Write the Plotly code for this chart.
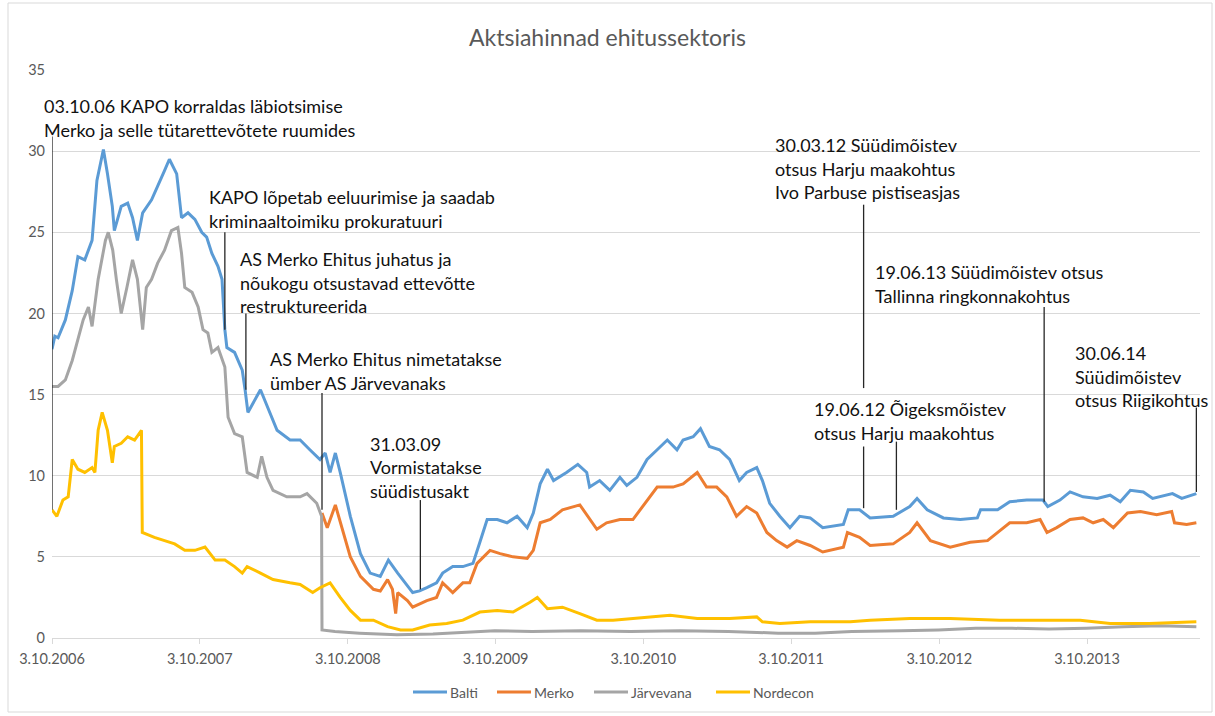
import plotly.graph_objects as go

# ---------------- data ----------------
balti_dates = ["2006-10-03","2006-10-10","2006-10-18","2006-11-05","2006-11-22","2006-12-06","2006-12-23","2007-01-10","2007-01-22","2007-02-07","2007-02-17","2007-03-01","2007-03-06","2007-03-23","2007-04-08","2007-04-20","2007-05-02","2007-05-15","2007-06-06","2007-06-21","2007-07-08","2007-07-20","2007-08-07","2007-08-19","2007-09-04","2007-09-21","2007-10-08","2007-10-20","2007-11-02","2007-11-17","2007-11-27","2007-12-04","2007-12-09","2007-12-28","2008-01-16","2008-01-23","2008-01-30","2008-03-01","2008-04-11","2008-05-13","2008-06-07","2008-07-01","2008-07-26","2008-08-08","2008-08-20","2008-09-02","2008-09-14","2008-10-09","2008-11-03","2008-11-27","2008-12-22","2009-01-11","2009-02-03","2009-03-12","2009-03-29","2009-04-16","2009-05-10","2009-05-25","2009-06-19","2009-07-14","2009-08-08","2009-08-25","2009-09-12","2009-10-07","2009-10-31","2009-11-25","2009-12-20","2010-01-04","2010-01-21","2010-02-08","2010-02-23","2010-03-27","2010-04-24","2010-05-16","2010-05-23","2010-06-17","2010-07-12","2010-08-06","2010-08-23","2010-09-17","2010-10-12","2010-11-06","2010-12-01","2010-12-25","2011-01-09","2011-02-03","2011-02-21","2011-03-15","2011-04-09","2011-05-04","2011-05-28","2011-06-15","2011-07-10","2011-07-24","2011-08-11","2011-09-05","2011-09-30","2011-10-24","2011-11-19","2011-12-20","2012-02-09","2012-02-21","2012-03-20","2012-04-15","2012-06-11","2012-07-22","2012-08-09","2012-09-03","2012-10-13","2012-11-24","2013-01-05","2013-01-13","2013-02-24","2013-03-26","2013-05-07","2013-06-16","2013-06-28","2013-07-28","2013-08-22","2013-09-23","2013-10-28","2013-11-29","2013-12-24","2014-01-18","2014-02-19","2014-03-14","2014-05-02","2014-05-25","2014-06-30"]
balti_values = [17.8,18.6,18.5,19.6,21.4,23.5,23.3,24.5,28.2,30.1,28.6,26.6,25.1,26.6,26.8,25.9,24.5,26.2,27.0,27.8,28.8,29.5,28.6,25.9,26.2,25.8,25.0,24.7,23.7,22.9,22.1,19.0,17.9,17.6,16.5,15.3,13.9,15.3,12.8,12.2,12.2,11.6,11.0,11.4,10.2,11.4,10.2,7.5,5.2,4.0,3.8,4.8,4.0,2.8,2.9,3.1,3.4,4.0,4.4,4.4,4.6,5.9,7.3,7.3,7.1,7.5,6.8,7.7,9.5,10.4,9.7,10.2,10.7,10.2,9.3,9.7,9.1,9.9,9.4,9.9,11.0,11.6,12.2,11.6,12.2,12.4,12.9,11.8,11.6,11.0,9.7,10.2,10.5,9.7,8.3,7.5,6.8,7.5,7.4,6.8,7.0,7.9,7.9,7.4,7.5,8.1,8.6,7.9,7.4,7.3,7.4,7.9,7.9,8.4,8.5,8.5,8.1,8.5,9.0,8.7,8.6,8.8,8.4,9.1,9.0,8.6,8.9,8.6,8.9]

merko_dates = ["2008-07-31","2008-08-13","2008-09-02","2008-09-22","2008-10-09","2008-11-03","2008-12-05","2008-12-22","2009-01-09","2009-01-21","2009-01-29","2009-02-03","2009-02-27","2009-03-12","2009-04-16","2009-05-10","2009-05-25","2009-06-19","2009-07-14","2009-07-31","2009-08-18","2009-09-19","2009-10-14","2009-11-15","2009-12-20","2010-01-04","2010-01-21","2010-02-15","2010-03-17","2010-04-29","2010-05-23","2010-06-10","2010-07-04","2010-08-06","2010-09-07","2010-10-12","2010-11-06","2010-12-15","2011-01-09","2011-02-13","2011-03-08","2011-04-02","2011-04-27","2011-05-21","2011-06-15","2011-07-10","2011-08-04","2011-08-28","2011-09-23","2011-10-17","2011-11-19","2011-12-20","2012-02-09","2012-02-19","2012-03-20","2012-04-15","2012-06-11","2012-07-22","2012-08-09","2012-09-11","2012-10-30","2012-12-18","2013-01-30","2013-03-01","2013-03-26","2013-05-07","2013-06-09","2013-06-26","2013-07-20","2013-08-22","2013-09-23","2013-10-18","2013-11-12","2013-12-07","2014-01-11","2014-02-12","2014-03-24","2014-04-30","2014-05-07","2014-06-06","2014-06-30"]
merko_values = [7.7,6.8,8.2,6.5,5.0,3.8,3.0,2.9,3.6,3.0,1.5,2.8,2.3,1.9,2.3,2.5,3.4,2.8,3.4,3.4,4.6,5.4,5.2,5.0,4.9,5.4,7.1,7.3,7.9,8.2,7.3,6.7,7.1,7.3,7.3,8.5,9.3,9.3,9.5,10.2,9.3,9.3,8.7,7.5,8.1,7.7,6.5,6.0,5.6,6.0,5.7,5.3,5.6,6.5,6.2,5.7,5.8,6.5,7.1,6.0,5.6,5.9,6.0,6.6,7.1,7.1,7.3,6.5,6.8,7.3,7.4,7.1,7.3,6.8,7.7,7.8,7.6,7.8,7.1,7.0,7.1]

jarvevana_dates = ["2006-10-03","2006-10-18","2006-11-05","2006-11-22","2006-12-06","2006-12-19","2007-01-01","2007-01-10","2007-01-25","2007-02-12","2007-02-19","2007-03-02","2007-03-11","2007-03-23","2007-04-06","2007-04-20","2007-05-02","2007-05-15","2007-05-24","2007-06-06","2007-06-21","2007-07-08","2007-07-25","2007-08-10","2007-08-19","2007-08-27","2007-09-14","2007-09-29","2007-10-11","2007-10-23","2007-11-02","2007-11-17","2007-12-04","2007-12-12","2007-12-28","2008-01-16","2008-01-28","2008-02-22","2008-03-04","2008-03-17","2008-04-01","2008-05-05","2008-06-07","2008-06-24","2008-07-18","2008-07-30","2008-07-31","2008-09-01","2008-11-01","2009-02-01","2009-05-01","2009-08-01","2009-10-01","2010-01-01","2010-05-01","2010-09-01","2011-01-01","2011-05-01","2011-09-01","2011-12-01","2012-03-01","2012-07-01","2012-10-01","2013-01-01","2013-04-01","2013-07-01","2013-10-01","2014-01-01","2014-04-01","2014-06-30"]
jarvevana_values = [15.5,15.5,15.9,17.1,18.4,19.6,20.4,19.2,22.1,24.5,25.0,23.9,22.1,20.0,21.6,23.3,22.1,19.0,21.6,22.1,23.1,23.9,25.1,25.3,23.7,21.6,21.3,20.4,19.0,18.8,17.6,17.9,16.7,13.6,12.6,12.4,10.2,9.9,11.2,9.9,9.1,8.7,8.7,8.9,8.3,7.5,0.5,0.4,0.3,0.2,0.25,0.35,0.45,0.4,0.45,0.4,0.45,0.4,0.3,0.3,0.4,0.45,0.5,0.6,0.6,0.55,0.6,0.7,0.75,0.7]

nordecon_dates = ["2006-10-03","2006-10-15","2006-10-30","2006-11-12","2006-11-22","2006-12-06","2006-12-23","2007-01-10","2007-01-17","2007-01-25","2007-02-04","2007-02-17","2007-03-01","2007-03-06","2007-03-23","2007-04-08","2007-04-25","2007-05-12","2007-05-14","2007-06-13","2007-07-08","2007-08-02","2007-08-27","2007-09-21","2007-10-16","2007-11-10","2007-12-04","2007-12-28","2008-01-16","2008-01-28","2008-03-01","2008-04-01","2008-05-13","2008-06-07","2008-07-08","2008-07-26","2008-08-20","2008-09-14","2008-10-09","2008-11-03","2008-12-05","2009-01-09","2009-02-10","2009-03-12","2009-04-23","2009-06-04","2009-07-14","2009-08-25","2009-10-07","2009-11-15","2009-12-27","2010-01-14","2010-02-08","2010-03-17","2010-04-29","2010-06-10","2010-07-20","2010-08-31","2010-10-12","2010-12-08","2011-02-13","2011-05-04","2011-07-10","2011-07-24","2011-09-05","2011-11-19","2012-02-26","2012-04-15","2012-07-22","2012-10-30","2013-03-01","2013-09-16","2013-11-29","2014-03-06","2014-06-30"]
nordecon_values = [7.9,7.5,8.5,8.7,11.0,10.4,10.2,10.5,10.2,12.8,13.9,12.8,10.8,11.8,12.0,12.4,12.2,12.8,6.5,6.2,6.0,5.8,5.4,5.4,5.6,4.8,4.8,4.4,4.0,4.4,4.0,3.6,3.4,3.3,2.8,3.1,3.4,2.5,1.7,1.1,1.1,0.7,0.5,0.5,0.8,0.9,1.1,1.6,1.7,1.6,2.2,2.5,1.8,1.9,1.5,1.1,1.1,1.2,1.3,1.4,1.2,1.2,1.3,1.0,0.9,1.0,1.0,1.1,1.2,1.2,1.1,1.1,0.9,0.9,1.0]

series_names = ["Balti", "Merko", "Järvevana", "Nordecon"]
series_colors = ["#5B9BD5", "#ED7D31", "#A5A5A5", "#FFC000"]

tick_dates = ["2006-10-03","2007-10-03","2008-10-03","2009-10-03","2010-10-03","2011-10-03","2012-10-03","2013-10-03"]
tick_labels = ["3.10.2006","3.10.2007","3.10.2008","3.10.2009","3.10.2010","3.10.2011","3.10.2012","3.10.2013"]

# event connector lines: date, list of (y_top, y_bottom) segments in price units
event_dates = ["2006-10-03","2007-12-04","2008-01-25","2008-07-31","2009-03-31","2012-03-30","2012-06-19","2013-06-19","2014-06-30"]
event_segments = [[(30.9, 7.9)], [(25.0, 19.0)], [(20.0, 15.3)], [(15.1, 7.9)], [(8.5, 3.0)],
                  [(26.7, 15.4), (11.8, 8.0)], [(12.1, 7.9)], [(20.4, 8.4)], [(14.2, 9.0)]]
event_texts = [
    ["03.10.06 KAPO korraldas läbiotsimise", "Merko ja selle tütarettevõtete ruumides"],
    ["KAPO lõpetab eeluurimise ja saadab", "kriminaaltoimiku prokuratuuri"],
    ["AS Merko Ehitus juhatus ja", "nõukogu otsustavad ettevõtte", "restruktureerida"],
    ["AS Merko Ehitus nimetatakse", "ümber AS Järvevanaks"],
    ["31.03.09", "Vormistatakse", "süüdistusakt"],
    ["30.03.12 Süüdimõistev", "otsus Harju maakohtus", "Ivo Parbuse pistiseasjas"],
    ["19.06.12 Õigeksmõistev", "otsus Harju maakohtus"],
    ["19.06.13 Süüdimõistev otsus", "Tallinna ringkonnakohtus"],
    ["30.06.14", "Süüdimõistev", "otsus Riigikohtus"],
]
# label placement (pixel left edge, first-line centre) -- layout only
label_pos = [(42, 106), (207, 197), (238, 259), (268, 359), (368, 444),
             (773, 145), (812, 409), (873, 272), (1073, 353)]
# legend placement (pixel x of line start) -- layout only
legend_x = [413, 497, 594, 716]
LEGEND_Y = 692

# ---------------- figure ----------------
W, H = 1215, 716
ML, MR, MT, MB = 52, 15, 70, 78
PW, PH = W - ML - MR, H - MT - MB
FONT = "Lato, 'Open Sans', sans-serif"

def px_x(px):
    return (px - ML) / PW

def px_y(py):
    return (MT + PH - py) / PH

fig = go.Figure()
all_series = [(balti_dates, balti_values), (merko_dates, merko_values),
              (jarvevana_dates, jarvevana_values), (nordecon_dates, nordecon_values)]
for (d, v), name, col in zip(all_series, series_names, series_colors):
    fig.add_trace(go.Scatter(x=d, y=v, mode="lines", name=name,
                             line=dict(color=col, width=3)))

shapes = []
for d, segs in zip(event_dates, event_segments):
    for (y0, y1) in segs:
        shapes.append(dict(type="line", xref="x", yref="y", x0=d, x1=d, y0=y0, y1=y1,
                           line=dict(color="#262626", width=1.3), layer="above"))
# outer chart border
shapes.append(dict(type="rect", xref="paper", yref="paper",
                   x0=px_x(8), x1=px_x(1212), y0=px_y(712), y1=px_y(3),
                   line=dict(color="#D9D9D9", width=1), fillcolor="rgba(0,0,0,0)", layer="below"))

annotations = []
LINE_H = 23.5
for lines, (lx, ly) in zip(event_texts, label_pos):
    for i, t in enumerate(lines):
        annotations.append(dict(xref="paper", yref="paper",
                                x=px_x(lx), y=px_y(ly + i * LINE_H),
                                xanchor="left", yanchor="middle", showarrow=False,
                                text=t, font=dict(family=FONT, size=18, color="#111111")))

# hand-built legend (line sample + real text)
for name, col, lx in zip(series_names, series_colors, legend_x):
    shapes.append(dict(type="line", xref="paper", yref="paper",
                       x0=px_x(lx), x1=px_x(lx + 34), y0=px_y(LEGEND_Y), y1=px_y(LEGEND_Y),
                       line=dict(color=col, width=3)))
    annotations.append(dict(xref="paper", yref="paper", x=px_x(lx + 35), y=px_y(LEGEND_Y),
                            xanchor="left", yanchor="middle", showarrow=False, text=name,
                            font=dict(family=FONT, size=14, color="#595959")))

fig.update_layout(
    width=W, height=H,
    margin=dict(l=ML, r=MR, t=MT, b=MB),
    paper_bgcolor="white", plot_bgcolor="white",
    title=dict(text="Aktsiahinnad ehitussektoris", x=0.5, xanchor="center",
               y=1 - 38 / H, yanchor="middle",
               font=dict(family=FONT, size=23, color="#595959")),
    font=dict(family=FONT, color="#595959"),
    showlegend=False,
    shapes=shapes, annotations=annotations,
    xaxis=dict(type="date", range=["2006-10-03", "2014-07-09"],
               tickvals=tick_dates, ticktext=tick_labels,
               showgrid=False, zeroline=False,
               showline=True, linecolor="#D9D9D9", linewidth=1,
               ticks="outside", ticklen=5, tickcolor="#D9D9D9", ticklabelstandoff=3,
               tickfont=dict(family=FONT, size=14.5, color="#595959")),
    yaxis=dict(range=[0, 35], tickvals=[0, 5, 10, 15, 20, 25, 30, 35],
               showgrid=True, gridcolor="#D9D9D9", gridwidth=1,
               zeroline=False, showline=False, ticks="", ticklabelstandoff=6,
               tickfont=dict(family=FONT, size=14.5, color="#595959")),
)

fig.write_html("out.html", config={"displayModeBar": False},
               post_script="document.body.style.margin='0px';document.body.style.overflow='hidden';")
